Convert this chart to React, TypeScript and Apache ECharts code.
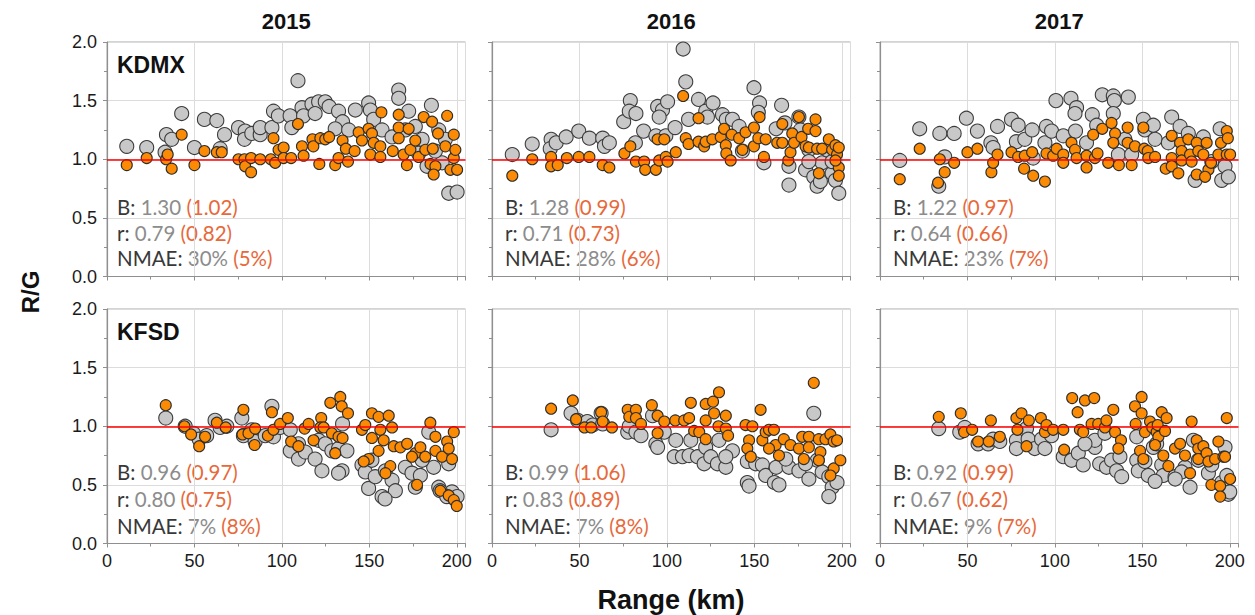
import React, { useEffect, useRef } from "react";
import * as echarts from "echarts";

const years = ["2015", "2016", "2017"];
const stations = ["KDMX", "KFSD"];
const xTicks = [0, 50, 100, 150, 200];
const yTicks = [0.0, 0.5, 1.0, 1.5, 2.0];

// stats per panel: [B grey, B orange, r grey, r orange, NMAE grey, NMAE orange]
const statsKDMX = [
  ["1.30", "(1.02)", "0.79", "(0.82)", "30%", "(5%)"],
  ["1.28", "(0.99)", "0.71", "(0.73)", "28%", "(6%)"],
  ["1.22", "(0.97)", "0.64", "(0.66)", "23%", "(7%)"],
];
const statsKFSD = [
  ["0.96", "(0.97)", "0.80", "(0.75)", "7%", "(8%)"],
  ["0.99", "(1.06)", "0.83", "(0.89)", "7%", "(8%)"],
  ["0.92", "(0.99)", "0.67", "(0.62)", "9%", "(7%)"],
];

const kdmx2015Gray = [
  [11.3, 1.11], [22.7, 1.1], [33.2, 1.06], [34, 1.21], [37, 1.17], [42.7, 1.39], [50, 1.1], [55.7, 1.34],
  [62.8, 1.33], [64.7, 1.09], [67.2, 1.21], [75.2, 1.27], [79, 1.24], [78.6, 1.17], [82.8, 1.22], [87.6, 1.21],
  [87.6, 1.27], [94.3, 1.27], [95.2, 1.41], [98, 1.37], [104.7, 1.37], [105.7, 1.27], [109.2, 1.67], [111.5, 1.44],
  [112.4, 1.37], [117.2, 1.47], [121, 1.49], [124.8, 1.49], [127, 1.45], [119, 1.39], [132.4, 1.41], [134.7, 1.32],
  [130.5, 1.26], [138.2, 1.25], [142, 1.42], [149.6, 1.48], [150.6, 1.42], [152.5, 1.34], [157.3, 1.25], [163, 1.19],
  [166.8, 1.59], [166.8, 1.52], [172.5, 1.41], [170.6, 1.25], [176.3, 1.28], [180.2, 1.17], [185.5, 1.46], [189.7, 1.25],
  [193.5, 1.17], [195.4, 0.71], [200.2, 0.72], [191.6, 0.97], [183, 0.94], [187.8, 1.07], [178.2, 1.05],
];
const kdmx2015Orange = [
  [11.3, 0.95], [22.7, 1.01], [33.8, 1.0], [34.7, 1.04], [37, 0.92], [42.7, 1.21], [50, 0.95], [55.7, 1.07],
  [62.8, 1.06], [65.6, 1.06], [75.2, 1.0], [78.6, 1.0], [79, 0.94], [82.4, 1.01], [82.4, 0.89], [87.6, 1.0],
  [93.7, 1.0], [95.2, 1.18], [96.2, 0.97], [98.1, 1.08], [101, 1.1], [101, 1.01], [105.3, 1.01], [109.2, 1.3],
  [111.5, 1.11], [112.4, 1.03], [117.5, 1.17], [118, 1.11], [121.4, 0.96], [122, 1.18], [124.8, 1.17], [127, 1.19],
  [130.5, 0.95], [132.4, 1.01], [134.7, 1.16], [136.6, 1.09], [137.8, 0.98], [141.6, 1.07], [143.9, 1.23], [145.8, 1.16],
  [149.6, 1.26], [151.5, 1.22], [152.5, 1.14], [150.6, 1.04], [156.3, 1.11], [156.9, 1.4], [156.3, 1.02], [163.4, 1.07],
  [166.8, 1.38], [166.8, 1.27], [166.8, 1.18], [169.6, 1.04], [171.5, 0.95], [172.5, 1.26], [173.5, 1.08], [176.3, 1.16],
  [178.2, 1.02], [181.1, 1.36], [182, 1.08], [185, 0.96], [185.9, 1.32], [186.3, 1.09], [187.8, 0.94], [189.3, 1.22],
  [193.5, 1.11], [194.5, 1.37], [196.4, 0.91], [198.3, 1.21], [198.3, 1.01], [200.2, 0.91], [199.2, 1.08], [186.8, 0.87],
];

const kdmx2016Gray = [
  [11.6, 1.04], [23, 1.13], [33.8, 1.17], [33.3, 1.09], [36.7, 1.14], [42.4, 1.19], [49.6, 1.24], [55.7, 1.18],
  [63.3, 1.18], [64.3, 1.11], [67.1, 1.14], [75.3, 1.32], [79.1, 1.5], [78.5, 1.41], [82.3, 1.39], [86.7, 1.24],
  [82, 1.14], [94.7, 1.45], [97.5, 1.42], [100.4, 1.49], [95.6, 1.36], [93.7, 1.2], [99.4, 1.2], [104.7, 1.27],
  [109.3, 1.94], [110.8, 1.66], [112.4, 1.34], [118.1, 1.51], [122.2, 1.41], [126.4, 1.48], [123.2, 1.36], [131.8, 1.38],
  [134, 1.34], [137.5, 1.34], [141.3, 1.28], [143.2, 1.07], [149.8, 1.61], [153, 1.48], [152.3, 1.4], [155.5, 0.97],
  [162.5, 1.26], [165.6, 1.46], [167.5, 1.31], [169.8, 0.94], [169.8, 0.78], [175.5, 1.36], [176.4, 1.25], [179.3, 0.91],
  [181.2, 1.08], [184, 0.85], [185.9, 0.77], [187.8, 0.81], [188.8, 0.97], [191.6, 1.08], [194.5, 0.88], [196.4, 0.82],
  [198.3, 0.71], [194.5, 0.98], [181.2, 0.98],
];
const kdmx2016Orange = [
  [11.6, 0.86], [23, 1.0], [33.8, 1.02], [33.8, 0.94], [37.6, 0.95], [42.8, 1.01], [49.6, 1.02], [55.7, 1.02],
  [63.3, 0.95], [67.1, 0.93], [75.7, 1.05], [79.1, 1.11], [82.3, 0.98], [87, 0.98], [87.6, 0.91], [93.7, 0.91],
  [95.6, 0.99], [99.4, 1.02], [100.4, 0.98], [94.7, 1.17], [98.5, 1.17], [105.1, 1.06], [109.3, 1.54], [110.8, 1.18],
  [112.4, 1.13], [118.1, 1.35], [118.1, 1.15], [121.3, 1.11], [122.2, 1.15], [126, 1.17], [130.8, 1.19], [132.7, 1.26],
  [133.7, 1.12], [134, 1.05], [136.5, 0.99], [137.1, 1.21], [141.3, 1.18], [143.2, 1.08], [145, 1.23], [149.8, 1.27],
  [149.8, 1.11], [152.3, 1.18], [153, 1.36], [155.5, 1.02], [156.5, 1.17], [163.1, 1.14], [166, 1.14], [166, 1.3],
  [169.4, 0.99], [170.7, 1.06], [171.7, 1.22], [172.7, 1.14], [175.5, 1.36], [177, 1.19], [179.3, 1.11], [180.8, 1.26],
  [181.2, 1.1], [185, 1.34], [185, 1.24], [185.9, 1.09], [186.9, 0.88], [188.8, 1.09], [192.6, 1.17], [194.5, 1.08],
  [196.4, 1.12], [197.3, 1.04], [198.3, 1.1], [198.3, 0.93], [198.3, 0.86], [196.4, 0.99],
];

const kdmx2017Gray = [
  [11.3, 0.99], [22.7, 1.26], [34.2, 1.22], [33.6, 0.77], [37, 1.02], [42.4, 1.22], [49.4, 1.35], [55.7, 1.24],
  [63.4, 1.14], [64.7, 1.1], [67.2, 1.28], [75.2, 1.34], [79, 1.29], [78, 1.15], [82.8, 1.17], [87, 1.25],
  [87.6, 1.01], [94.3, 1.14], [95.2, 1.28], [98.1, 1.24], [100.6, 1.5], [104.8, 1.2], [109.2, 1.52], [112.4, 1.44],
  [111.5, 1.39], [111.8, 1.24], [118.1, 1.14], [121.4, 1.38], [123.9, 1.29], [127.1, 1.55], [133.4, 1.54], [134, 1.5],
  [133.4, 1.39], [142, 1.53], [140, 1.17], [150.6, 1.34], [151.5, 1.25], [156.3, 1.29], [157.3, 1.17], [164.9, 1.14],
  [166.8, 1.36], [171.6, 1.28], [176.3, 1.22], [184.9, 1.19], [180.2, 0.82], [194.5, 1.26], [197.3, 0.94], [195.4, 0.82],
  [199.2, 0.85], [189.7, 0.98], [136.3, 1.04], [143.9, 1.04],
];
const kdmx2017Orange = [
  [11.3, 0.83], [22.7, 1.09], [34.2, 1.0], [37, 0.89], [33.2, 0.8], [42.4, 0.97], [50, 1.06], [55.7, 1.09],
  [63.7, 0.89], [64.7, 0.97], [67.2, 1.04], [75.2, 1.06], [79, 1.02], [82.8, 1.03], [82.4, 0.92], [87, 1.06],
  [87.6, 0.86], [94.3, 0.81], [95.2, 1.05], [99, 1.03], [101, 1.09], [104.8, 1.04], [104.8, 0.97], [109.5, 1.14],
  [111.5, 1.08], [112.4, 1.01], [118.1, 0.93], [118.1, 1.03], [121.9, 1.21], [122.9, 1.01], [124.4, 1.05], [127.1, 1.26],
  [130.5, 0.97], [132.4, 1.31], [134.4, 1.22], [133.4, 1.14], [136.6, 0.95], [141.6, 1.27], [141.6, 1.14], [143.9, 0.95],
  [145.8, 1.11], [150.6, 1.27], [151.1, 1.09], [153.1, 1.07], [153.4, 1.01], [157.3, 1.02], [163.4, 0.92], [166.8, 1.2],
  [166.8, 1.01], [166.8, 0.94], [170.6, 0.88], [171.6, 1.14], [172.5, 1.07], [172.5, 0.99], [176.3, 1.17], [177.3, 1.04],
  [178.2, 0.98], [181.1, 1.14], [181.1, 0.87], [182, 1.07], [184.9, 1.04], [186.8, 1.14], [187.8, 0.91], [189.3, 0.97],
  [193.5, 1.04], [195, 1.14], [198.3, 1.24], [198.9, 1.18], [198.3, 1.04], [200.2, 1.04], [185.9, 0.85],
];

const kfsd2015Gray = [
  [33.6, 1.07], [44.7, 1.0], [49.4, 0.94], [52.7, 0.89], [57, 0.92], [61.8, 1.05], [64.7, 0.99], [68.5, 1.0],
  [77.1, 1.07], [78, 0.92], [82.8, 0.97], [84.7, 0.87], [90.5, 0.92], [94.3, 1.17], [95.2, 0.91], [99, 0.99],
  [104.8, 0.97], [104.8, 0.79], [109.5, 0.85], [109.5, 0.72], [113.4, 0.78], [119, 0.72], [121, 0.88], [124.8, 0.85],
  [128.6, 0.79], [132.4, 0.81], [134.7, 1.02], [137.2, 0.79], [134.4, 0.62], [132.4, 0.6], [145.8, 0.67], [147.7, 0.61],
  [149.6, 0.47], [151.5, 0.71], [153.4, 0.57], [157.3, 0.4], [159.2, 0.62], [163, 0.54], [164.9, 0.45], [170.6, 0.65],
  [174.4, 0.6], [179.2, 0.58], [176.3, 0.48], [184, 0.95], [186.8, 0.65], [189.7, 0.48], [195.4, 0.68], [197.3, 0.44],
  [200.2, 0.4], [180.2, 0.71], [122.9, 0.62], [159, 0.38], [190.5, 0.45], [194.3, 0.4],
];
const kfsd2015Orange = [
  [33.6, 1.18], [44.3, 1.0], [48.1, 0.93], [52.7, 0.83], [56.1, 0.91], [62.8, 1.03], [67.9, 0.99], [78, 1.14],
  [77.5, 0.93], [80.9, 0.94], [84.4, 0.84], [84.7, 0.98], [92, 0.92], [94.3, 1.12], [95.2, 0.97], [99, 1.02],
  [103.4, 1.07], [105.3, 0.87], [109.5, 0.83], [113, 0.98], [115.3, 1.02], [118.1, 0.88], [122.5, 1.07], [122, 0.99],
  [123.9, 0.99], [127.7, 1.2], [133.4, 1.25], [134.2, 1.17], [137.8, 1.11], [128.6, 0.94], [132.4, 0.91], [134.7, 0.9],
  [130.5, 0.77], [145.8, 0.97], [147.7, 1.01], [151.5, 1.11], [151.5, 0.9], [155.3, 1.08], [156.3, 0.97], [158.2, 0.88],
  [161.1, 1.09], [163, 0.99], [155.3, 0.79], [149.6, 0.72], [146.8, 0.7], [162, 0.66], [159.2, 0.6], [164, 0.83],
  [167.8, 0.82], [171.6, 0.85], [176.3, 0.77], [174.4, 0.74], [179.2, 0.82], [182, 0.74], [184.9, 1.03], [187.8, 0.91],
  [187.8, 0.79], [191.6, 0.74], [194.5, 0.87], [195.4, 0.81], [197.3, 0.72], [198.3, 0.95], [177.3, 0.5], [190.6, 0.45],
  [195.4, 0.41], [198.3, 0.37], [200, 0.32],
];

const kfsd2016Gray = [
  [33.8, 0.97], [45.2, 1.11], [49, 1.05], [54.5, 1.04], [57.6, 1.01], [62.4, 1.11], [63.3, 1.02], [77.6, 0.95],
  [78.5, 1.0], [82.3, 0.95], [85.2, 0.92], [91.8, 1.09], [93.7, 0.85], [94.7, 0.82], [98.5, 0.95], [105.1, 0.88],
  [104.2, 0.74], [108.9, 0.74], [112.7, 0.75], [113.7, 0.88], [117.5, 0.74], [121.3, 0.68], [122.2, 0.82], [125.1, 0.74],
  [128.9, 0.68], [129.8, 0.88], [133.7, 0.65], [137.5, 0.79], [133.7, 0.74], [146, 0.52], [147, 0.49], [146, 0.7],
  [150.8, 0.68], [154.6, 0.67], [156.5, 0.58], [162.5, 0.65], [161.5, 0.52], [164.1, 0.5], [169.8, 0.65], [175.5, 0.62],
  [181.2, 0.55], [184, 1.11], [186, 0.71], [188.8, 0.61], [192.6, 0.57], [194.5, 0.48], [197.3, 0.52], [192.6, 0.4],
  [179.3, 0.68], [168, 0.72],
];
const kfsd2016Orange = [
  [33.8, 1.15], [46.2, 1.22], [48.1, 1.06], [52.9, 0.99], [56.7, 0.99], [62.4, 1.12], [63.3, 1.04], [68.6, 0.99],
  [77.6, 1.14], [78.5, 1.08], [82.3, 1.14], [82.3, 1.07], [85.2, 1.02], [91.4, 1.18], [94.7, 1.09], [94.7, 0.94],
  [98.5, 1.04], [104.8, 1.05], [109.9, 1.05], [112.7, 1.07], [113.7, 1.2], [115.6, 0.96], [118.5, 0.95], [122.2, 1.19],
  [122.2, 1.05], [122.2, 0.89], [126.4, 1.21], [127, 1.11], [129.8, 1.29], [129.5, 1.0], [133.7, 1.09], [133.7, 0.98],
  [135, 0.92], [145, 1.01], [148.9, 1.0], [153.6, 1.14], [147, 0.88], [146, 0.81], [148, 0.74], [154.6, 0.88],
  [156.5, 0.95], [158.4, 0.97], [161.2, 0.97], [162.2, 0.84], [164.1, 0.75], [158.4, 0.81], [166.9, 0.89], [170.7, 0.84],
  [175.5, 0.81], [177.4, 0.91], [178.3, 0.72], [181.2, 0.91], [184, 1.37], [186.9, 0.89], [187.8, 0.78], [186.9, 0.71],
  [190.7, 0.89], [193.5, 0.93], [195.4, 0.87], [197.3, 0.88], [195.4, 0.64], [193.5, 0.58], [199.2, 0.71], [181.2, 0.82],
];

const kfsd2017Gray = [
  [33.6, 0.98], [45.6, 0.95], [48.5, 0.99], [56.1, 0.85], [61.8, 0.85], [64.7, 0.89], [68.5, 0.87], [78, 0.88],
  [78, 0.81], [83.8, 0.98], [84.7, 0.89], [88.5, 0.81], [92.4, 0.89], [94.3, 0.81], [98.1, 0.92], [104.8, 0.74],
  [109.5, 0.71], [113.4, 0.77], [116.2, 0.67], [122.9, 0.82], [122.9, 0.88], [128.6, 0.94], [125.6, 0.68], [129.5, 0.65],
  [132.4, 0.71], [135.3, 0.62], [138.2, 0.57], [137.2, 0.74], [146.8, 0.71], [147.7, 0.62], [146.8, 0.91], [151.5, 0.7],
  [153.4, 0.58], [156.3, 0.82], [158.2, 0.85], [161.1, 0.67], [162, 0.58], [168.7, 0.57], [174.4, 0.65], [177.3, 0.48],
  [179.2, 0.88], [182, 0.71], [187.8, 0.6], [189.7, 0.67], [197.3, 0.82], [199.2, 0.42], [195.4, 0.52], [198.3, 0.58],
  [172.5, 0.61], [117.2, 0.85], [157.3, 0.53], [168.8, 0.55], [200, 0.44],
];
const kfsd2017Orange = [
  [33.6, 1.08], [46.2, 1.11], [48.1, 0.95], [52.7, 0.97], [56.1, 0.87], [62.2, 0.87], [63.4, 1.05], [68.5, 0.91],
  [78, 1.07], [80.9, 1.11], [78.6, 0.97], [83.8, 0.83], [85.1, 1.05], [92, 1.07], [94.3, 0.95], [95.2, 1.01],
  [99, 0.97], [104.8, 0.97], [105.3, 0.8], [109.9, 1.24], [113, 1.12], [117.2, 1.22], [122.5, 1.24], [114.3, 0.97],
  [116.2, 0.95], [121, 1.02], [124.8, 1.02], [128.6, 0.99], [129.5, 1.05], [133.4, 1.14], [134.4, 0.95], [137.8, 0.88],
  [136.3, 0.81], [145.8, 1.17], [149.6, 1.25], [149.6, 1.11], [146.2, 1.02], [151.5, 0.95], [154.4, 1.04], [155.7, 0.99],
  [158.2, 0.95], [159.2, 0.91], [158.8, 1.01], [161.1, 1.12], [163.9, 1.07], [163, 0.96], [148.7, 0.79], [150.6, 0.72],
  [157.3, 0.84], [162, 0.75], [164.9, 0.66], [168.7, 0.81], [171.6, 0.85], [174.4, 0.75], [178.2, 1.04], [177.3, 0.6],
  [181.1, 0.88], [182, 0.81], [182, 0.72], [184.9, 0.83], [186.8, 0.77], [187.8, 0.7], [191.6, 0.72], [193.5, 0.87],
  [196.4, 0.74], [198.3, 1.07], [189.5, 0.5], [194.5, 0.49], [200.2, 0.55], [194.5, 0.4], [197.3, 0.74],
];

const grayPanels = [kdmx2015Gray, kdmx2016Gray, kdmx2017Gray, kfsd2015Gray, kfsd2016Gray, kfsd2017Gray];
const orangePanels = [kdmx2015Orange, kdmx2016Orange, kdmx2017Orange, kfsd2015Orange, kfsd2016Orange, kfsd2017Orange];

const GRID_LEFTS = [107, 492, 880];
const GRID_TOPS = [42, 309];
const GRID_W = 358.5;
const GRID_H = 234.5;

export default function App() {
  const ref = useRef<HTMLDivElement>(null);
  useEffect(() => {
    if (!ref.current) return;
    const chart = echarts.init(ref.current, undefined, { renderer: "svg" });
    const grids: any[] = [];
    const xAxes: any[] = [];
    const yAxes: any[] = [];
    const series: any[] = [];
    const graphics: any[] = [];
    const tickFont = { fontFamily: "Liberation Sans, Arial, sans-serif", fontSize: 18, color: "#1a1a1a" };
    const axisGrey = "#8f8f8f";

    for (let i = 0; i < 6; i++) {
      const row = i < 3 ? 0 : 1;
      const col = i % 3;
      grids.push({
        left: GRID_LEFTS[col],
        top: GRID_TOPS[row],
        width: GRID_W,
        height: GRID_H,
        show: true,
        borderColor: "#a8a8a8",
        borderWidth: 1,
        containLabel: false,
      });
      xAxes.push({
        gridIndex: i,
        type: "value",
        min: 0,
        max: 205,
        interval: 50,
        axisLine: { show: true, onZero: false, lineStyle: { color: axisGrey, width: 1.2 } },
        axisTick: { show: true, length: 4, lineStyle: { color: axisGrey } },
        minorTick: { show: true, splitNumber: 2, length: 3, lineStyle: { color: axisGrey } },
        splitLine: { show: true, lineStyle: { color: "#dcdcdc", width: 1 } },
        axisLabel: {
          show: row === 1,
          margin: 8,
          ...tickFont,
          formatter: (v: number) => (xTicks.includes(v) ? String(v) : ""),
        },
      });
      yAxes.push({
        gridIndex: i,
        type: "value",
        min: 0,
        max: 2,
        interval: 0.5,
        axisLine: { show: true, onZero: false, lineStyle: { color: axisGrey, width: 1.2 } },
        axisTick: { show: true, length: 4, lineStyle: { color: axisGrey } },
        minorTick: { show: true, splitNumber: 2, length: 3, lineStyle: { color: axisGrey } },
        splitLine: { show: true, lineStyle: { color: "#dcdcdc", width: 1 } },
        axisLabel: {
          show: col === 0,
          margin: 10,
          ...tickFont,
          formatter: (v: number) => (yTicks.includes(v) ? v.toFixed(1) : ""),
        },
      });
      series.push({
        type: "scatter",
        xAxisIndex: i,
        yAxisIndex: i,
        data: [],
        z: 1,
        silent: true,
        markLine: {
          silent: true,
          symbol: "none",
          label: { show: false },
          lineStyle: { color: "#ff0000", width: 1.6, type: "solid" },
          data: [{ yAxis: 1 }],
        },
      });
      series.push({
        type: "scatter",
        xAxisIndex: i,
        yAxisIndex: i,
        data: grayPanels[i],
        symbolSize: 14,
        z: 2,
        itemStyle: { color: "#c8c8c8", borderColor: "#3c3c3c", borderWidth: 1.1, opacity: 1 },
      });
      series.push({
        type: "scatter",
        xAxisIndex: i,
        yAxisIndex: i,
        data: orangePanels[i],
        symbolSize: 11,
        z: 3,
        itemStyle: { color: "#fb8a04", borderColor: "#2e2e2e", borderWidth: 1.1, opacity: 1 },
      });

      // annotations
      const st = row === 0 ? statsKDMX[col] : statsKFSD[col];
      const tx = GRID_LEFTS[col] + (col === 0 ? 10 : 13);
      const baseY = row === 0 ? 207 : 472;
      const gap = row === 0 ? 25.7 : 27;
      const labels = ["B:", "r:", "NMAE:"];
      for (let k = 0; k < 3; k++) {
        graphics.push({
          type: "text",
          x: tx,
          y: baseY + gap * k,
          silent: true,
          style: {
            text: `{a|${labels[k]}} {b|${st[k * 2]}} {c|${st[k * 2 + 1]}}`,
            fontFamily: "Lato, sans-serif",
            fontSize: 20.5,
            verticalAlign: "middle",
            rich: {
              a: { fill: "#383838", fontFamily: "Lato, sans-serif", fontSize: 20.5 },
              b: { fill: "#8c8c8c", fontFamily: "Lato, sans-serif", fontSize: 20.5 },
              c: { fill: "#e8683a", fontFamily: "Lato, sans-serif", fontSize: 20.5 },
            },
          },
        });
      }
      if (col === 0) {
        graphics.push({
          type: "text",
          x: GRID_LEFTS[0] + 10,
          y: row === 0 ? 65 : 332,
          silent: true,
          style: {
            text: stations[row],
            fontFamily: "Liberation Sans, Arial, sans-serif",
            fontWeight: "bold",
            fontSize: 23,
            fill: "#111",
            verticalAlign: "middle",
          },
        });
      }
      if (row === 0) {
        graphics.push({
          type: "text",
          x: GRID_LEFTS[col] + GRID_W / 2,
          y: 21,
          silent: true,
          style: {
            text: years[col],
            fontFamily: "Liberation Sans, Arial, sans-serif",
            fontWeight: "bold",
            fontSize: 22,
            fill: "#111",
            align: "center",
            verticalAlign: "middle",
          },
        });
      }
    }

    graphics.push({
      type: "text",
      x: 30,
      y: 292,
      rotation: Math.PI / 2,
      silent: true,
      style: {
        text: "R/G",
        fontFamily: "Liberation Sans, Arial, sans-serif",
        fontWeight: "bold",
        fontSize: 24,
        fill: "#111",
        align: "center",
        verticalAlign: "middle",
      },
    });
    graphics.push({
      type: "text",
      x: 671,
      y: 600,
      silent: true,
      style: {
        text: "Range (km)",
        fontFamily: "Liberation Sans, Arial, sans-serif",
        fontWeight: "bold",
        fontSize: 27,
        fill: "#111",
        align: "center",
        verticalAlign: "middle",
      },
    });

    chart.setOption({
      animation: false,
      backgroundColor: "#ffffff",
      grid: grids,
      xAxis: xAxes,
      yAxis: yAxes,
      series,
      graphic: graphics,
    });
    return () => chart.dispose();
  }, []);

  return (
    <div
      ref={ref}
      style={{ position: "fixed", left: 0, top: 0, width: 1255, height: 615 }}
    />
  );
}
